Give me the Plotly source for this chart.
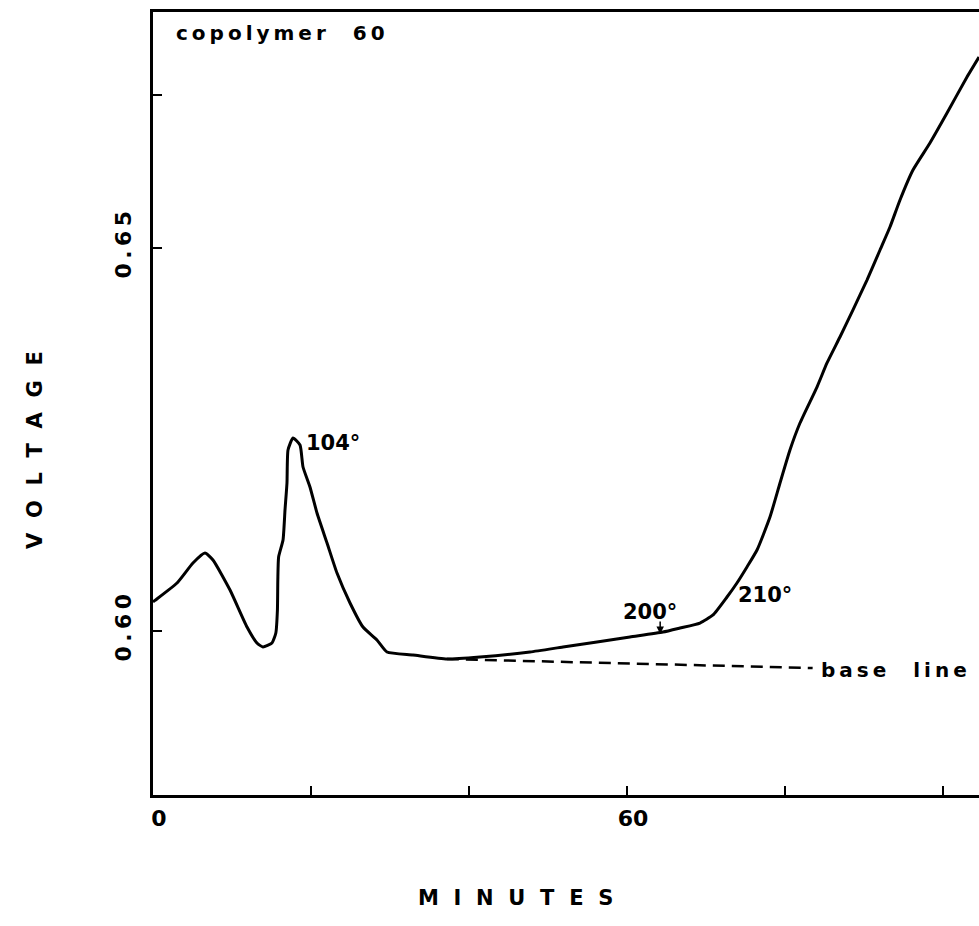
import plotly.graph_objects as go

# Thermal trace (minutes vs volts)
minutes = [0.0, 0.25, 3.04, 5.06, 6.58, 7.59, 9.75, 11.90, 13.16, 13.92,
           15.06, 15.55, 15.75, 15.80, 15.90, 16.46, 16.71, 16.96, 17.09, 17.72,
           18.61, 18.99, 19.87, 20.76, 22.03, 23.29, 24.94, 26.58, 28.35, 29.62,
           32.91, 37.22, 41.39, 47.72, 51.90, 56.20, 60.38, 64.56, 66.71, 69.24,
           70.89, 72.66, 73.92, 75.19, 76.46, 78.10, 79.37, 80.63, 81.90, 84.05,
           85.32, 86.96, 88.61, 90.38, 92.03, 93.29, 94.56, 96.20, 98.35, 100.51,
           103.04, 104.56]
voltage = [0.6038, 0.6040, 0.60627, 0.60888, 0.61018, 0.60927, 0.60535, 0.60052, 0.59843, 0.59791,
           0.59843, 0.59974, 0.60274, 0.60666, 0.60966, 0.61188, 0.61580, 0.61932, 0.62363, 0.62520,
           0.62428, 0.62141, 0.61880, 0.61540, 0.61149, 0.60757, 0.60366, 0.60052, 0.59883, 0.59726,
           0.59687, 0.59634, 0.59661, 0.59726, 0.59791, 0.59856, 0.59922, 0.59987, 0.60039, 0.60104,
           0.60209, 0.60444, 0.60627, 0.60836, 0.61057, 0.61488, 0.61932, 0.62363, 0.62715, 0.63185,
           0.63499, 0.63838, 0.64191, 0.64582, 0.64974, 0.65274, 0.65627, 0.66018, 0.66371, 0.66762,
           0.67232, 0.67493]

# dashed base line
base_minutes = [37.2, 83.5]
base_voltage = [0.59634, 0.59517]

x_ticks = [0, 20, 40, 60, 80, 100]
x_tick_text = ["0", "", "", "60", "", ""]
y_ticks = [0.60, 0.65, 0.67]
y_tick_text = ["0\u2009.\u20096\u20090", "0\u2009.\u20096\u20095", ""]

FONT = "DejaVu Sans"
SP = "\u2002\u2009"  # wide letter spacing for the axis titles

fig = go.Figure()
fig.add_trace(go.Scatter(x=minutes, y=voltage, mode="lines",
                         line=dict(color="black", width=3, shape="spline", smoothing=0.5),
                         showlegend=False))
fig.add_trace(go.Scatter(x=base_minutes, y=base_voltage, mode="lines",
                         line=dict(color="black", width=2.5, dash="12px,7px"),
                         showlegend=False))

def label(text, x, y, size=20, **kw):
    fig.add_annotation(text=text, x=x, y=y, showarrow=False, xanchor="left",
                       font=dict(family=FONT, size=size, color="black", weight="bold"), **kw)

label("c\u2009o\u2009p\u2009o\u2009l\u2009y\u2009m\u2009e\u2009r\u2003 6\u20090", 2.6, 0.6781, size=20)
label("104°", 19.1, 0.6245, size=21)
label("200°", 59.3, 0.6025, size=21)
label("210°", 73.8, 0.6047, size=21)
label("b\u2009a\u2009s\u2009e\u2003 l\u2009i\u2009n\u2009e", 84.3, 0.5949, size=20)

# little arrow to the 200 degree point
fig.add_annotation(x=64.2, y=0.5996, ax=0, ay=-14, text="", showarrow=True,
                   arrowhead=2, arrowsize=1, arrowwidth=1.5, arrowcolor="black")

# axis titles
fig.add_annotation(text=SP.join("MINUTES"), xref="paper", yref="paper",
                   x=(515 - 153) / 826, y=-(912 - 795) / 783, showarrow=False,
                   font=dict(family=FONT, size=21, color="black", weight="bold"))
fig.add_annotation(text=SP.join("VOLTAGE"), xref="paper", yref="paper",
                   x=(21 - 153) / 826, y=(795 - 450) / 783, showarrow=False, textangle=-90,
                   font=dict(family=FONT, size=21, color="black", weight="bold"))

fig.update_xaxes(range=[0, 104.56], tickvals=x_ticks, ticktext=x_tick_text,
                 ticks="inside", ticklen=9, tickwidth=2, tickcolor="black",
                 showline=True, linewidth=3, linecolor="black", mirror=True,
                 showgrid=False, zeroline=False, ticklabelstandoff=2, ticklabelshift=6,
                 tickfont=dict(family=FONT, size=22, color="black", weight="bold"))
fig.update_yaxes(range=[0.57859, 0.68081], tickvals=y_ticks, ticktext=y_tick_text,
                 ticks="inside", ticklen=9, tickwidth=2, tickcolor="black",
                 showline=True, linewidth=3, linecolor="black",
                 showgrid=False, zeroline=False, tickangle=-90, ticklabelstandoff=10,
                 tickfont=dict(family=FONT, size=22, color="black", weight="bold"))

fig.update_layout(width=979, height=926, margin=dict(l=153, r=0, t=12, b=131),
                  plot_bgcolor="white", paper_bgcolor="white")

fig.write_html("out.html", config={"displayModeBar": False},
               post_script="document.body.style.margin='0';document.body.style.overflow='hidden';")
